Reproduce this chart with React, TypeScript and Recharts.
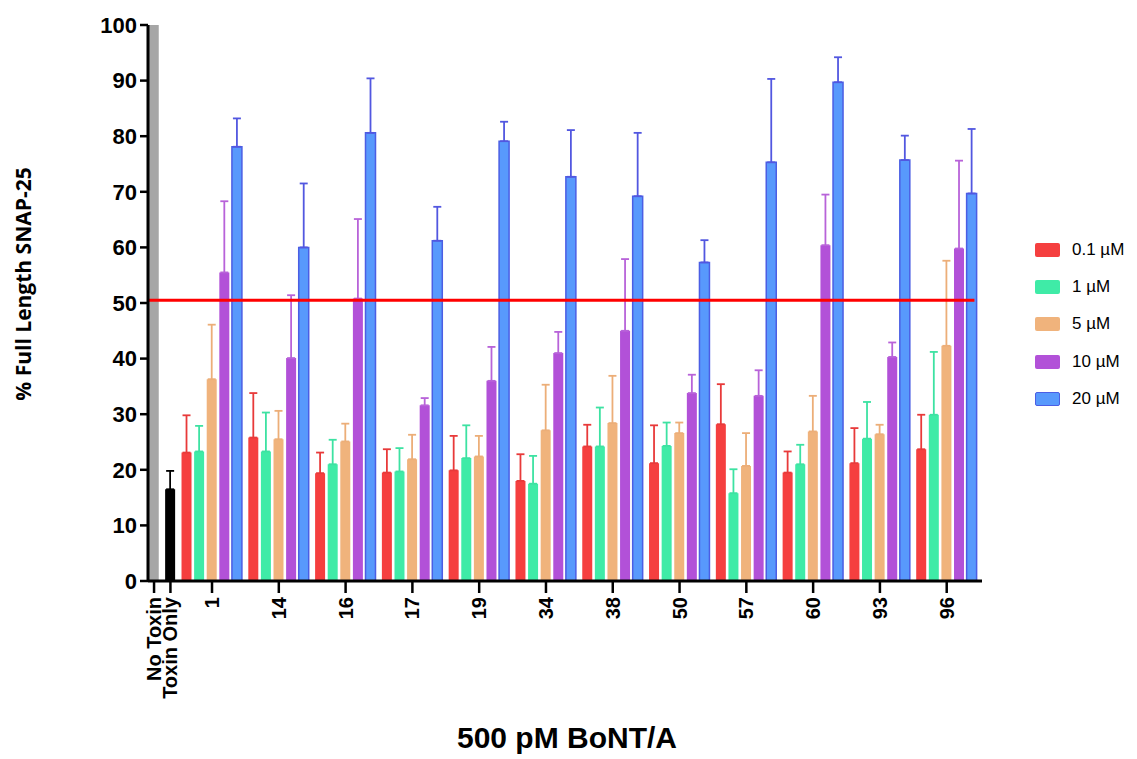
import { BarChart, Bar, XAxis, YAxis, Cell, ErrorBar, ReferenceLine, Legend } from 'recharts';

const controlLabels = ['No Toxin', 'Toxin Only'];
const controlMeans = [100, 16.5];
const controlErrors = [0, 3.3];

const compounds = ['1', '14', '16', '17', '19', '34', '38', '50', '57', '60', '93', '96'];
const concentrations = ['0.1 \u00b5M', '1 \u00b5M', '5 \u00b5M', '10 \u00b5M', '20 \u00b5M'];

const mean01 = [23.1, 25.8, 19.4, 19.5, 19.9, 18.0, 24.2, 21.2, 28.2, 19.5, 21.2, 23.7];
const err01 = [6.7, 8.0, 3.7, 4.2, 6.2, 4.8, 3.9, 6.8, 7.2, 3.8, 6.3, 6.2];
const mean1 = [23.3, 23.3, 21.0, 19.7, 22.1, 17.5, 24.2, 24.3, 15.8, 21.0, 25.6, 29.9];
const err1 = [4.6, 7.0, 4.4, 4.2, 5.9, 5.0, 7.0, 4.2, 4.3, 3.5, 6.6, 11.3];
const mean5 = [36.3, 25.5, 25.1, 21.9, 22.4, 27.1, 28.4, 26.6, 20.7, 26.9, 26.4, 42.3];
const err5 = [9.8, 5.1, 3.2, 4.4, 3.7, 8.2, 8.5, 1.9, 5.9, 6.4, 1.7, 15.3];
const mean10 = [55.5, 40.1, 50.8, 31.6, 36.0, 41.0, 45.0, 33.8, 33.3, 60.4, 40.3, 59.8];
const err10 = [12.8, 11.3, 14.3, 1.3, 6.1, 3.8, 12.9, 3.3, 4.6, 9.1, 2.6, 15.8];
const mean20 = [78.1, 60.0, 80.6, 61.2, 79.1, 72.7, 69.2, 57.3, 75.3, 89.7, 75.7, 69.7];
const err20 = [5.1, 11.5, 9.8, 6.1, 3.5, 8.4, 11.4, 4.0, 15.0, 4.5, 4.4, 11.6];

const thresholdLine = 50.5;

const seriesMeans = [mean01, mean1, mean5, mean10, mean20];
const seriesErrors = [err01, err1, err5, err10, err20];

// series 0,1 = controls, 2..6 = concentrations
const fills = ['#a6a6a6', '#000000', '#f53f3f', '#3feba7', '#f0b37c', '#b251d8', '#5899fc'];
const errColors = ['#a6a6a6', '#000000', '#e83a3a', '#3de2a2', '#ecae78', '#b863d9', '#5257e0'];
const strokes = ['none', 'none', 'none', 'none', 'none', 'none', '#4b5ee4'];

const FONT = '"Liberation Sans", Arial, sans-serif';
const GAP = 0.3; // extra gap between groups, in bar slots

type Row = { pos: number; value: number; err: number; series: number };

const rows: Row[] = [];
const tickPositions: number[] = [];
const tickLabels: string[] = [];

controlLabels.forEach((label, i) => {
  const pos = i * (1 + GAP);
  rows.push({ pos, value: controlMeans[i], err: controlErrors[i], series: i });
  tickPositions.push(pos);
  tickLabels.push(label);
});

const firstGroup = controlLabels.length * (1 + GAP);
compounds.forEach((name, g) => {
  const start = firstGroup + g * (concentrations.length + GAP);
  seriesMeans.forEach((means, s) => {
    rows.push({ pos: start + s, value: means[g], err: seriesErrors[s][g], series: s + 2 });
  });
  tickPositions.push(start + (concentrations.length - 1) / 2);
  tickLabels.push(name);
});

function CategoryTick({ x, y, payload }: any) {
  const i = tickPositions.findIndex((t) => Math.abs(t - payload.value) < 1e-6);
  return (
    <text
      x={x}
      y={y + 2}
      transform={`rotate(-90, ${x}, ${y + 2})`}
      textAnchor="end"
      dominantBaseline="central"
      fontFamily={FONT}
      fontSize={20}
      fontWeight={700}
      fill="#000"
    >
      {tickLabels[i]}
    </text>
  );
}

function YTitle({ viewBox }: any) {
  const cx = viewBox.x + 23;
  const cy = viewBox.y + viewBox.height / 2 - 19;
  return (
    <text
      x={cx}
      y={cy}
      transform={`rotate(-90, ${cx}, ${cy})`}
      textAnchor="middle"
      dominantBaseline="central"
      fontFamily='"Open Sans", sans-serif'
      fontSize={21}
      fontWeight={700}
      fill="#000"
    >
      % Full Length SNAP-25
    </text>
  );
}

function XTitle({ viewBox }: any) {
  return (
    <text
      x={viewBox.x + viewBox.width / 2 + 2}
      y={viewBox.y + 167}
      textAnchor="middle"
      fontFamily={FONT}
      fontSize={30}
      fontWeight={700}
      fill="#000"
    >
      500 pM BoNT/A
    </text>
  );
}

function LegendList() {
  return (
    <div style={{ fontFamily: FONT, fontSize: 17, color: '#000' }}>
      {concentrations.map((c, i) => (
        <div key={c} style={{ display: 'flex', alignItems: 'center', height: 37.3 }}>
          <div
            style={{
              width: 25,
              height: 14,
              borderRadius: 2,
              background: fills[i + 2],
              boxSizing: 'border-box',
              border: strokes[i + 2] === 'none' ? 'none' : `1.5px solid ${strokes[i + 2]}`,
              marginRight: 12,
            }}
          />
          <span>{c}</span>
        </div>
      ))}
    </div>
  );
}

export default function App() {
  return (
    <div style={{ position: 'absolute', left: 0, top: 0, background: '#fff' }}>
      <BarChart
        width={1137}
        height={759}
        data={rows}
        margin={{ top: 25, right: 155, bottom: 0, left: 0 }}
      >
        <XAxis
          type="number"
          dataKey="pos"
          domain={[-0.48, 65.7]}
          allowDataOverflow
          ticks={tickPositions}
          interval={0}
          height={178}
          tick={<CategoryTick />}
          tickSize={12}
          tickMargin={2}
          tickLine={{ stroke: '#000', strokeWidth: 2.5 }}
          axisLine={{ stroke: '#000', strokeWidth: 3 }}
          label={{ content: XTitle }}
        />
        <YAxis
          type="number"
          domain={[0, 100]}
          ticks={[0, 10, 20, 30, 40, 50, 60, 70, 80, 90, 100]}
          interval={0}
          width={148}
          tickSize={8}
          tickMargin={3}
          tick={{ fontSize: 22, fontWeight: 700, fill: '#000', fontFamily: FONT }}
          tickLine={{ stroke: '#000', strokeWidth: 2.5 }}
          axisLine={{ stroke: '#000', strokeWidth: 3 }}
          label={{ content: YTitle }}
        />
        <Bar dataKey="value" barSize={10} isAnimationActive={false}>
          {rows.map((r, i) => (
            <Cell key={i} fill={fills[r.series]} stroke={strokes[r.series]} strokeWidth={1.5} />
          ))}
          {fills.map((_, s) => (
            <ErrorBar
              key={s}
              direction="y"
              dataKey={(d: any) => {
                const r = d && d.payload ? d.payload : d;
                return r && r.series === s && r.err > 0 ? [0, r.err] : undefined;
              }}
              stroke={errColors[s]}
              strokeWidth={1.8}
              width={4}
            />
          ))}
        </Bar>
        <ReferenceLine
          segment={[
            { x: -0.48, y: thresholdLine },
            { x: 65.1, y: thresholdLine },
          ]}
          stroke="#ff0000"
          strokeWidth={3}
        />
        <Legend
          layout="vertical"
          align="center"
          verticalAlign="middle"
          wrapperStyle={{ left: 1035, top: 231, width: 102 }}
          content={() => <LegendList />}
        />
      </BarChart>
    </div>
  );
}
